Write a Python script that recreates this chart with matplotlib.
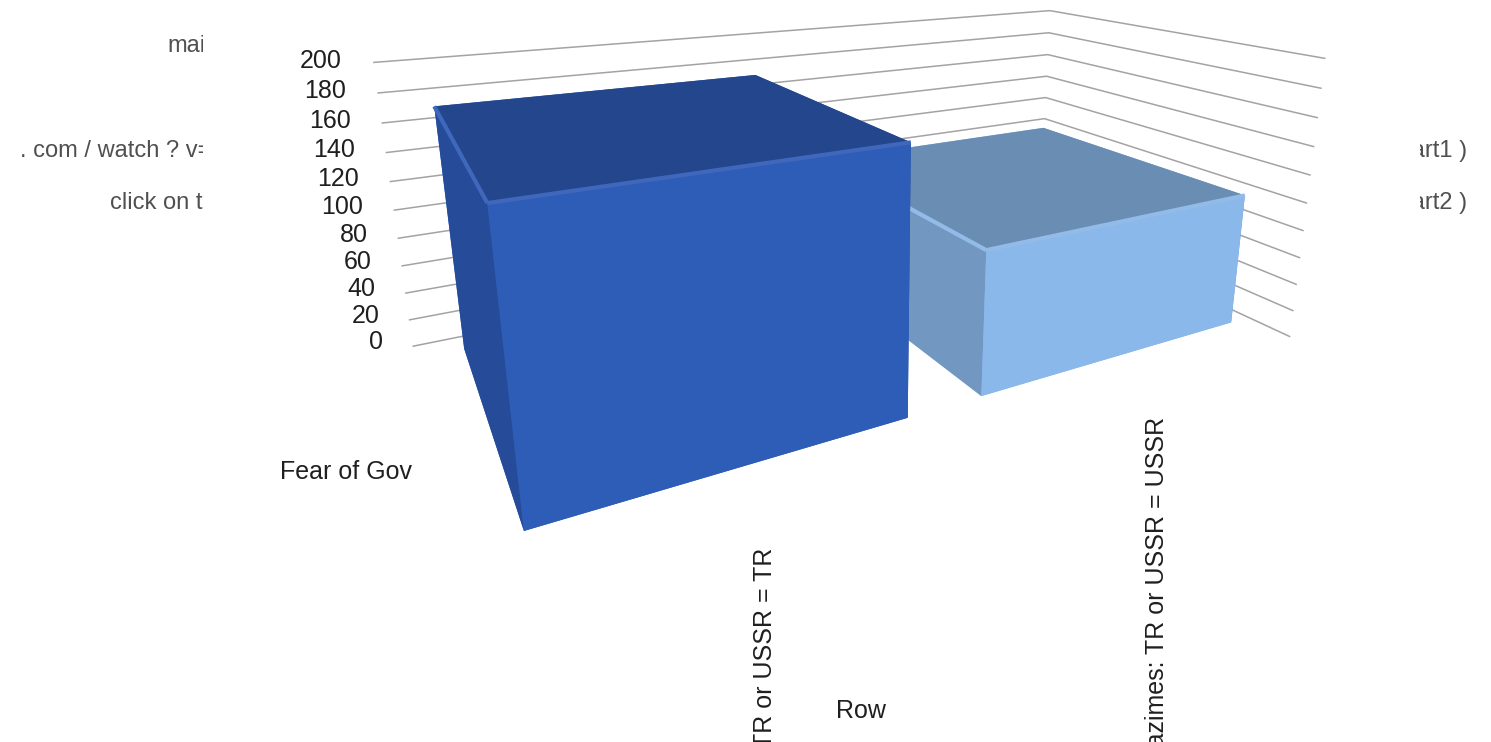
import matplotlib
matplotlib.use("Agg")
import matplotlib.pyplot as plt
from matplotlib.transforms import Bbox

# data
categories = ["TR or USSR = TR", "Kazimes: TR or USSR = USSR"]
values = [172, 98]
value_ticks = list(range(0, 201, 20))
series_label = "Fear of Gov"
axis_label = "Row"
left_labels = ["main", ". com / watch ? v=", "click on the"]
right_labels = ["( part1 )", "( part2 )"]

W, H = 1491, 742
plt.rcParams["font.family"] = ["Liberation Sans", "DejaVu Sans"]
plt.rcParams["font.size"] = 18

fig = plt.figure(figsize=(W / 100, H / 100), dpi=100)
# square axes, placed so the camera axis falls where it does in the picture
side = 1000
ax = fig.add_axes([357.5 / W, 70.5 / H, side / W, side / H], projection="3d", computed_zorder=False)
ax.view_init(elev=15.7, azim=-118.8)
ax.set_proj_type("persp", focal_length=0.1813)
ax.set_box_aspect((1.992, 0.912, 0.851), zoom=1.0546)
ax.set_axis_off()

# walls: gridlines only
wall_left, wall_right = -0.013, 1.968
for v in value_ticks:
    ax.plot([wall_left, wall_right, wall_right], [1, 1, 0], [v, v, v], color="#a3a3a3", lw=1.1, zorder=1)
    ax.text(wall_left - 0.065, 1.06, v, str(v), ha="right", va="center", color="#1f1f1f")

# bars, faces in order -Z, +Z, -Y, +Y, -X, +X
bar_width = 0.805
bar_depth = 0.797
bar_y = 0.128
bar_faces = [
    ["#2d5db7", "#24468c", "#2d5db7", "#2d5db7", "#254b99", "#254b99"],
    ["#8ab8ea", "#6a8db3", "#8ab8ea", "#8ab8ea", "#7298c2", "#7298c2"],
]
bar_edges = ["#3f67bb", "#93bbe8"]
for i, v in enumerate(values):
    x0 = i + 0.5 - bar_width / 2
    z = 3 - i * 2
    ax.bar3d(x0, bar_y, 0, bar_width, bar_depth, v, color=bar_faces[i], shade=False, zorder=z)
    ax.plot([x0, x0 + bar_width], [bar_y, bar_y], [v, v], color=bar_edges[i], lw=3,
            solid_capstyle="butt", zorder=z + 0.5)
    ax.plot([x0, x0], [bar_y, bar_y + bar_depth], [v, v], color=bar_edges[i], lw=3,
            solid_capstyle="butt", zorder=z + 0.5)

ax.set_xlim(-0.1, 2.142)
ax.set_ylim(0, 1)
ax.set_zlim(0, 265)
ax.set_xticks([])
ax.set_yticks([])
ax.set_zticks([])


def px_text(x, y, s, **kw):
    kw.setdefault("color", "#1f1f1f")
    kw.setdefault("va", "center")
    return fig.text(x / W, 1 - y / H, s, **kw)


# labels of the other axes
px_text(346, 472, series_label, ha="center")
px_text(861, 711, axis_label, ha="center")
px_text(765, 548, categories[0], rotation=90, ha="center", va="top")
px_text(1157, 417, categories[1], rotation=90, ha="center", va="top")

# the text boxes that are cut off by the white chart area
left_clip = Bbox([[0, 0], [203, H]])
right_clip = Bbox([[1420, 0], [W, H]])
for s, x, y in zip(left_labels, [167, 20, 110], [46, 151, 203]):
    px_text(x, y, s, ha="left", color="#505050", fontsize=17, clip_on=True, clip_box=left_clip)
for s, y in zip(right_labels, [151, 203]):
    px_text(1467, y, s, ha="right", color="#505050", fontsize=17, clip_on=True, clip_box=right_clip)

fig.savefig("out.png", dpi=100)
